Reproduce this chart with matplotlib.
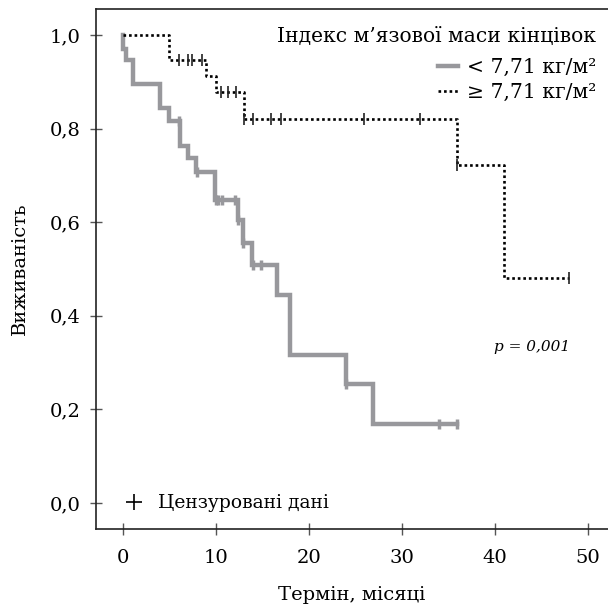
import numpy as np
import matplotlib.pyplot as plt
from matplotlib.lines import Line2D
from matplotlib.ticker import FuncFormatter

# -- Kaplan-Meier data, appendicular muscle mass index groups --
# low index (< 7.71 kg/m2)
low_event_t = [0.0, 0.4, 1.1, 4.0, 5.0, 6.2, 7.0, 7.9, 9.9, 12.4, 12.9, 13.9,
               16.6, 18.0, 24.0, 26.9]
low_surv = [0.969, 0.947, 0.896, 0.843, 0.815, 0.762, 0.736, 0.708, 0.647,
            0.604, 0.556, 0.508, 0.444, 0.317, 0.255, 0.169]
low_end = 36.0
low_cens_t = [6.0, 8.0, 10.0, 10.3, 10.7, 12.1, 12.4, 12.9, 14.0, 14.9,
              24.0, 34.0, 36.0]

# high index (>= 7.71 kg/m2)
high_event_t = [5.0, 9.0, 10.0, 13.0, 36.0, 41.0]
high_surv = [0.947, 0.913, 0.878, 0.821, 0.722, 0.481]
high_end = 48.0
high_cens_t = [6.0, 7.0, 7.5, 8.5, 10.6, 11.3, 12.2, 13.0, 14.0, 16.0, 17.0,
               26.0, 32.0, 36.0, 48.0]

x_ticks = [0, 10, 20, 30, 40, 50]
y_ticks = [0.0, 0.2, 0.4, 0.6, 0.8, 1.0]

GRAY = "#98989c"
FONT = "DejaVu Serif"


def km_curve(event_t, surv, end):
    t = np.concatenate([[0.0], event_t, [end]])
    s = np.concatenate([[1.0], surv, [surv[-1]]])
    return t, s


def km_at(event_t, surv, times):
    idx = np.searchsorted(event_t, times, side="right") - 1
    s = np.concatenate([[1.0], surv])
    return s[idx + 1]


plt.rcParams.update({"font.family": FONT, "font.size": 14})

fig = plt.figure(figsize=(6.08, 6.09), dpi=100)
ax = fig.add_axes([0.158, 0.131, 0.842, 0.854])

t, s = km_curve(low_event_t, low_surv, low_end)
ax.step(t, s, where="post", color=GRAY, lw=3.2, solid_joinstyle="miter")
ax.plot(low_cens_t, km_at(low_event_t, low_surv, low_cens_t), ls="none",
        marker="|", ms=7, mew=2.5, color=GRAY)

t, s = km_curve(high_event_t, high_surv, high_end)
ax.step(t, s, where="post", color="black", lw=1.9, ls=(0, (1.0, 1.1)))
ax.plot(high_cens_t, km_at(high_event_t, high_surv, high_cens_t), ls="none",
        marker="|", ms=8, mew=1.2, color="#222222")

ax.set_xlim(-2.87, 52.2)
ax.set_ylim(-0.056, 1.055)
ax.set_xticks(x_ticks)
ax.set_yticks(y_ticks)
ax.yaxis.set_major_formatter(FuncFormatter(lambda v, _: f"{v:.1f}".replace(".", ",")))
ax.tick_params(direction="inout", length=8, width=1.0, color="#555555",
               labelsize=14)
ax.tick_params(axis="x", pad=10)
ax.tick_params(axis="y", pad=7)
ax.spines["right"].set_visible(False)
for side in ["left", "bottom", "top"]:
    ax.spines[side].set_linewidth(1.2)
    ax.spines[side].set_color("#222222")

ax.set_xlabel("Термін, місяці", fontsize=14, labelpad=14)
ax.set_ylabel("Виживаність", fontsize=14, labelpad=15)

ax.text(44.0, 0.333, "p = 0,001", style="italic", fontsize=11,
        ha="center", va="center")

group_handles = [
    Line2D([], [], color=GRAY, lw=3.2),
    Line2D([], [], color="black", lw=1.9, ls=(0, (1.0, 1.1))),
]
leg = ax.legend(group_handles, ["< 7,71 кг/м²", "≥ 7,71 кг/м²"],
                title="Індекс м’язової маси кінцівок", loc="upper right",
                bbox_to_anchor=(1.0, 0.99), frameon=False, fontsize=14.6,
                title_fontsize=14.6, handlelength=1.0, handletextpad=0.4,
                labelspacing=0.3, borderaxespad=0.2, alignment="right")
leg._legend_box.sep = 9
ax.add_artist(leg)

cens_handle = Line2D([], [], ls="none", marker="+", ms=12, mew=1.2, color="black")
ax.legend([cens_handle], ["Цензуровані дані"], loc="lower left",
          frameon=False, fontsize=13.5, handlelength=1.3, handletextpad=0.6,
          bbox_to_anchor=(0.018, 0.0))

fig.savefig("out.png", dpi=100)
